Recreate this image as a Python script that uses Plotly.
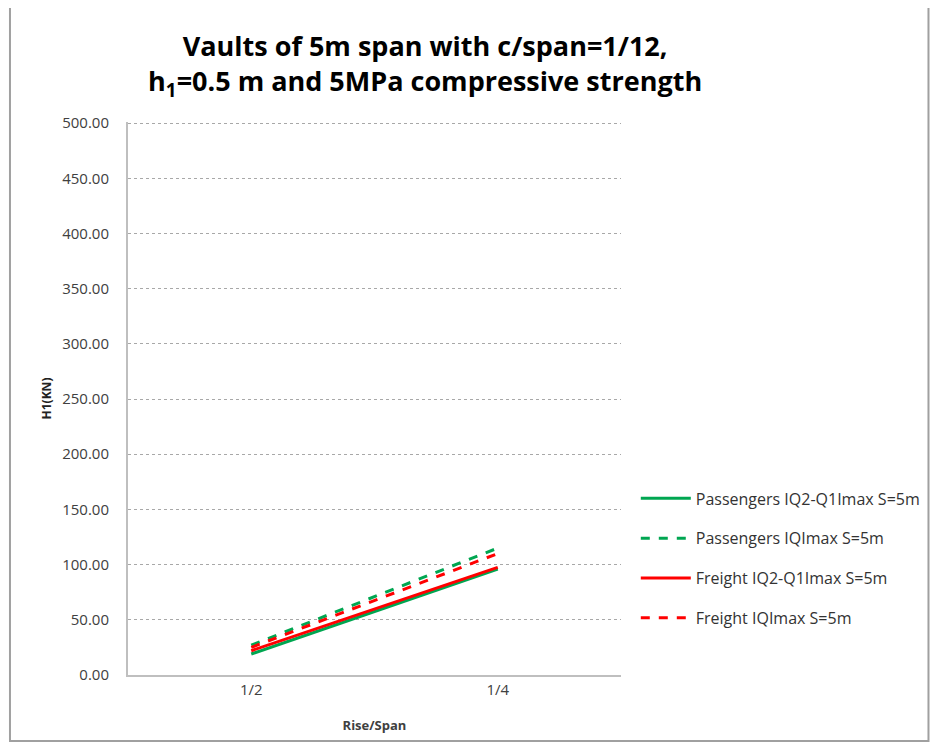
import plotly.graph_objects as go

categories = ["1/2", "1/4"]
pass_iq2_q1 = [19, 96]
pass_iqmax = [27, 115]
freight_iq2_q1 = [22, 97.5]
freight_iqmax = [25, 110]
y_ticks = [0, 50, 100, 150, 200, 250, 300, 350, 400, 450, 500]

GREEN = "#00A651"
RED = "#FF0000"

fig = go.Figure()
fig.add_trace(go.Scatter(x=categories, y=pass_iq2_q1, mode="lines",
                         name="Passengers IQ2-Q1Imax S=5m", legendgroup="a",
                         line=dict(color=GREEN, width=3)))
fig.add_trace(go.Scatter(x=categories, y=pass_iqmax, mode="lines",
                         name="Passengers IQImax S=5m", legendgroup="b",
                         line=dict(color=GREEN, width=3, dash="dash")))
fig.add_trace(go.Scatter(x=categories, y=freight_iq2_q1, mode="lines",
                         name="Freight IQ2-Q1Imax S=5m", legendgroup="c",
                         line=dict(color=RED, width=3)))
fig.add_trace(go.Scatter(x=categories, y=freight_iqmax, mode="lines",
                         name="Freight IQImax S=5m", legendgroup="d",
                         line=dict(color=RED, width=3, dash="dash")))

fig.update_layout(
    width=929, height=736,
    margin=dict(l=120, r=312, t=114, b=69),
    paper_bgcolor="white", plot_bgcolor="white",
    font=dict(family="Open Sans, Liberation Sans, sans-serif", color="#404040", size=13),
    title=dict(
        text="Vaults of 5m span with c/span=1/12,<br>h<sub>1</sub>=0.5 m and 5MPa compressive strength",
        x=0.449, xanchor="center", y=0.935, yanchor="top",
        font=dict(family="Open Sans, Liberation Sans, sans-serif", size=27, color="black", weight="bold"),
    ),
    showlegend=True,
    legend=dict(x=1.03, xanchor="left", y=0.35, yanchor="top",
                font=dict(size=16, color="#333333"), itemwidth=50,
                tracegroupgap=16, bgcolor="rgba(0,0,0,0)"),
    xaxis=dict(type="category", range=[-0.5, 1.5], showgrid=False,
               showline=True, linecolor="#BFBFBF", linewidth=2,
               ticks="", tickfont=dict(size=15, color="#404040"),
               title=dict(text="<b>Rise/Span</b>", font=dict(size=13, color="#404040"), standoff=23)),
    yaxis=dict(range=[0, 501], tickvals=y_ticks, tickformat=".2f",
               showgrid=True, gridcolor="#A8A8A8", griddash="dot", gridwidth=1,
               showline=True, linecolor="#BFBFBF", linewidth=2,
               ticks="", ticklabelstandoff=14,
               tickfont=dict(size=15, color="#404040"), zeroline=False,
               title=dict(text="<b>H1(KN)</b>", font=dict(size=12, color="#222222"), standoff=8)),
)

# outer frame around the chart
fig.add_shape(type="rect", xref="paper", yref="paper",
              x0=-0.2394, x1=1.6237, y0=-0.1193, y1=1.2116,
              line=dict(color="#A0A0A0", width=2), fillcolor="rgba(0,0,0,0)", layer="below")

fig.write_html("out.html")
